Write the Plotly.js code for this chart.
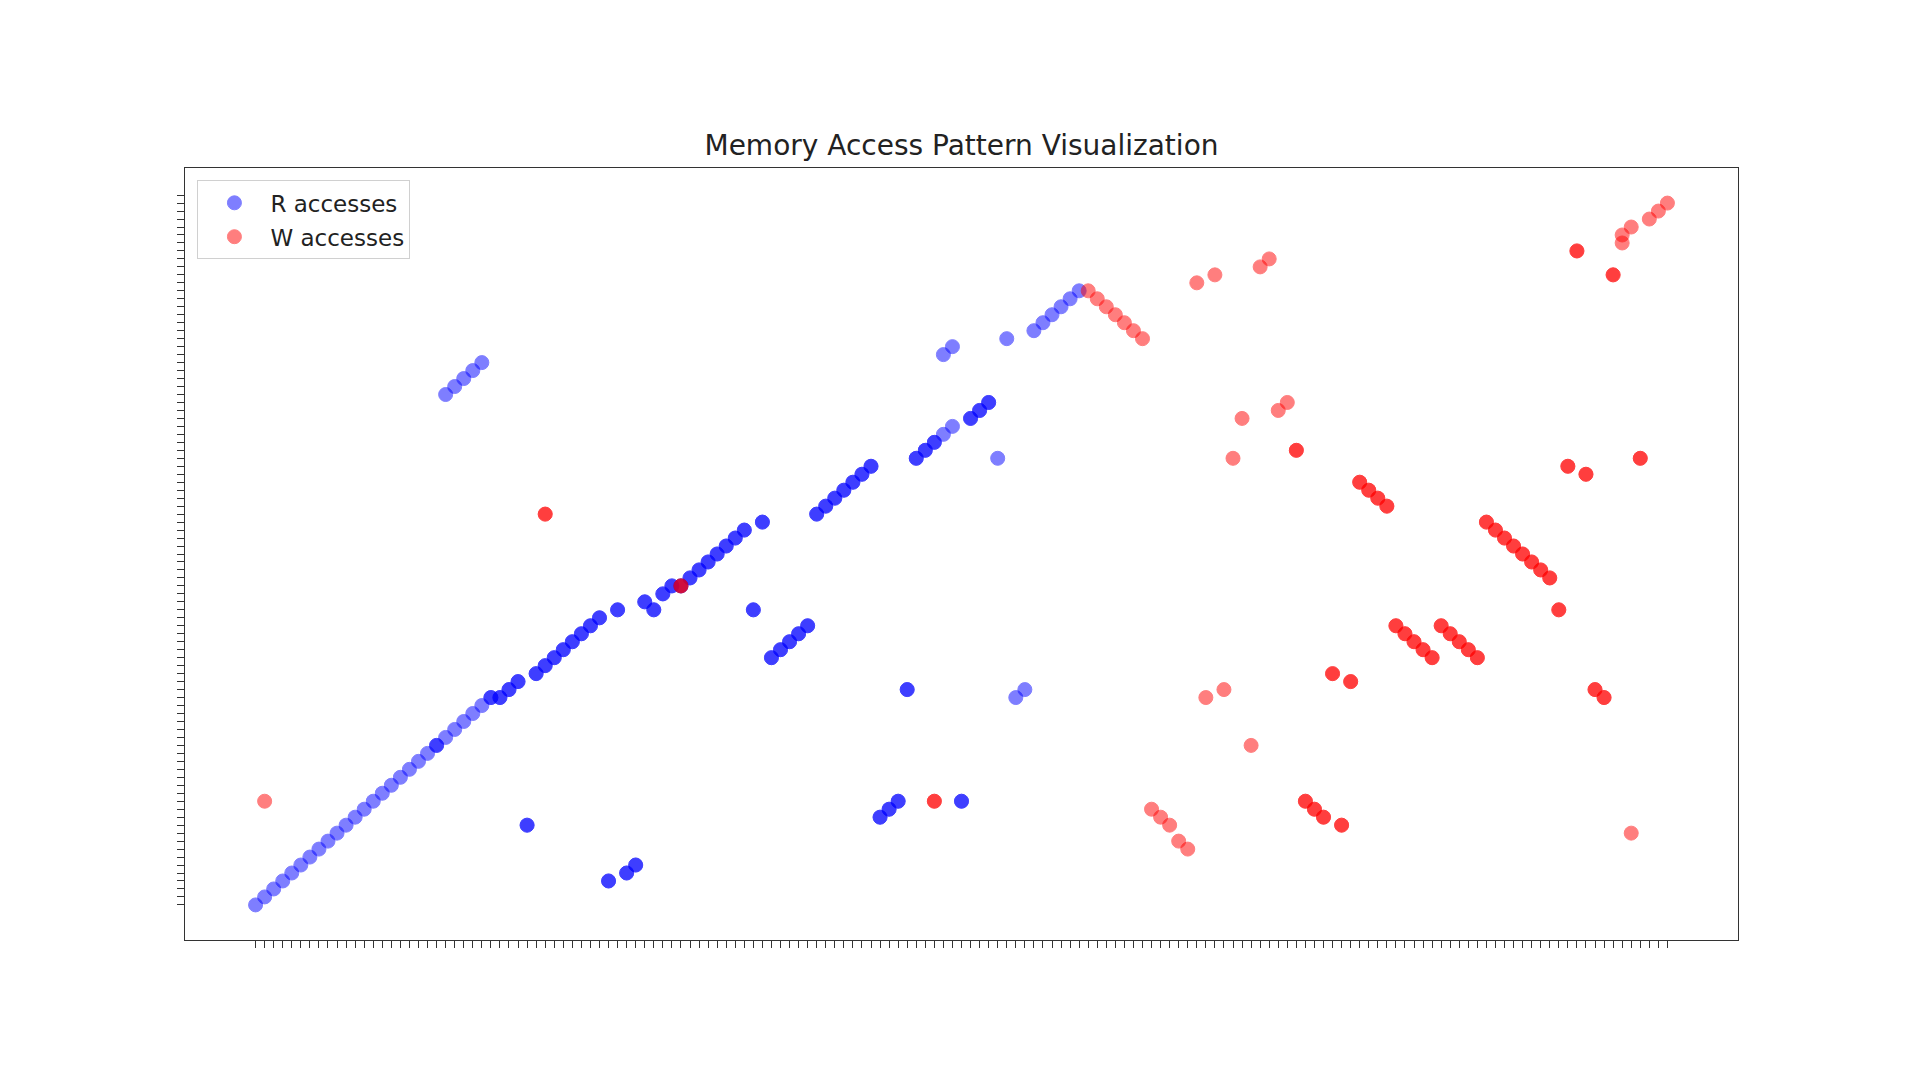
<!DOCTYPE html>
<html>
<head>
<meta charset="utf-8">
<script src="https://cdn.plot.ly/plotly-3.0.1.min.js"></script>
<style>
  html, body { margin: 0; padding: 0; background: #ffffff; }
  #chart { width: 1920px; height: 1080px; }
</style>
</head>
<body>
<div id="chart"></div>
<script>
// R accesses: time index, address level, number of overlapping accesses
const rX = [0,1,2,3,4,5,6,7,8,9,10,11,12,13,14,15,16,17,18,19,
  20,21,22,23,24,25,21,22,23,24,25,
  26,27,28,29,30,31,32,33,34,35,36,37,38,39,40,41,42,43,44,45,46,47,48,49,50,51,52,53,54,55,56,57,58,59,60,61,
  62,63,64,65,66,67,68,69,70,71,72,73,74,75,76,77,76,77,78,79,80,81,82,83,84,85,86,87,88,89,90,91];
const rY = [0,1,2,3,4,5,6,7,8,9,10,11,12,13,14,15,16,17,18,19,
  20,21,22,23,24,25,64,65,66,67,68,
  26,26,27,28,10,29,30,31,32,33,34,35,36,3,37,4,5,38,37,39,40,40,41,42,43,44,45,46,47,37,48,31,32,33,34,35,
  49,50,51,52,53,54,55,11,12,13,27,56,57,58,59,60,69,70,13,61,62,63,56,71,26,27,72,73,74,75,76,77];
const rCount = [1,1,1,1,1,1,1,1,1,1,1,1,1,1,1,1,1,1,1,1,
  2,1,1,1,1,1,1,1,1,1,1,
  2,2,2,2,2,2,2,2,2,2,2,2,2,2,2,2,2,2,2,2,2,2,2,2,2,2,2,2,2,2,2,2,2,2,2,2,
  2,2,2,2,2,2,2,2,2,2,2,2,2,2,1,1,1,1,2,2,2,2,1,1,1,1,1,1,1,1,1,1];

// W accesses
const wX = [1,32,47,75,
  92,93,94,95,96,97,98,
  99,100,101,102,103,
  104,105,106,107,108,109,110,111,112,113,114,
  115,116,117,118,119,120,121,122,123,124,125,
  126,127,128,129,130,131,132,133,134,135,
  136,137,138,139,140,141,142,143,144,145,146,147,148,149,150,
  151,151,152,152,153,154,155,156];
const wY = [13,49,40,13,
  77,76,75,74,73,72,71,
  12,11,10,8,7,
  78,26,79,27,56,61,20,80,81,62,63,
  57,13,12,11,29,10,28,53,52,51,50,
  35,34,33,32,31,35,34,33,32,31,
  48,47,46,45,44,43,42,41,37,55,82,54,27,26,79,
  83,84,85,9,56,86,87,88];
const wCount = [1,2,2,2,
  1,1,1,1,1,1,1,
  1,1,1,1,1,
  1,1,1,1,1,1,1,1,1,1,1,
  2,2,2,2,2,2,2,2,2,2,2,
  2,2,2,2,2,2,2,2,2,2,
  2,2,2,2,2,2,2,2,2,2,2,2,2,2,2,
  1,1,1,1,2,1,1,1];

const xTicks = [];
for (let i = 0; i <= 156; i++) xTicks.push(i);
const yTicks = [];
for (let j = 0; j <= 89; j++) yTicks.push(j);

function expand(xs, ys, counts) {
  const ex = [], ey = [];
  // draw each access as its own translucent marker (overlaps darken)
  for (let pass = 1; pass <= 2; pass++) {
    for (let k = 0; k < xs.length; k++) {
      if (counts[k] >= pass) { ex.push(xs[k]); ey.push(ys[k]); }
    }
  }
  return [ex, ey];
}

const [rxE, ryE] = expand(rX, rY, rCount);
const [wxE, wyE] = expand(wX, wY, wCount);

const font = 'DejaVu Sans, Liberation Sans, sans-serif';

const traces = [
  {
    type: 'scatter', mode: 'markers', name: 'R accesses', legendgroup: 'r',
    x: rxE, y: ryE,
    marker: { color: 'rgb(0,0,255)', size: 14, opacity: 0.5,
              line: { color: 'rgb(0,0,255)', width: 1 } },
    hoverinfo: 'x+y'
  },
  {
    type: 'scatter', mode: 'markers', name: 'W accesses', legendgroup: 'w',
    x: wxE, y: wyE,
    marker: { color: 'rgb(255,0,0)', size: 14, opacity: 0.5,
              line: { color: 'rgb(255,0,0)', width: 1 } },
    hoverinfo: 'x+y'
  }
];

const layout = {
  width: 1920, height: 1080,
  paper_bgcolor: '#ffffff', plot_bgcolor: '#ffffff',
  margin: { l: 185, r: 182, t: 168, b: 140, pad: 0 },
  font: { family: font, color: '#222222' },
  title: {
    text: 'Memory Access Pattern Visualization',
    font: { family: font, size: 28, color: '#222222' },
    x: 0.5, xref: 'paper', xanchor: 'center',
    y: 1 - 145 / 1080, yref: 'container', yanchor: 'middle'
  },
  showlegend: true,
  legend: {
    x: 0.008, y: 0.984, xanchor: 'left', yanchor: 'top',
    bgcolor: 'rgba(255,255,255,0.9)', bordercolor: '#d0d0d0', borderwidth: 1,
    font: { family: font, size: 23, color: '#222222' },
    itemsizing: 'trace', itemwidth: 62,
    traceorder: 'grouped', tracegroupgap: 1
  },
  xaxis: {
    range: [-7.8, 163.8], showgrid: false, zeroline: false,
    showline: true, mirror: true, linecolor: '#333333', linewidth: 1,
    ticks: 'outside', ticklen: 7, tickwidth: 1, tickcolor: '#333333',
    tickmode: 'array', tickvals: xTicks, showticklabels: false
  },
  yaxis: {
    range: [-4.4, 92.4], showgrid: false, zeroline: false,
    showline: true, mirror: true, linecolor: '#333333', linewidth: 1,
    ticks: 'outside', ticklen: 7, tickwidth: 1, tickcolor: '#333333',
    tickmode: 'array', tickvals: yTicks, showticklabels: false
  }
};

Plotly.newPlot('chart', traces, layout, { displayModeBar: false, staticPlot: true });
</script>
</body>
</html>
